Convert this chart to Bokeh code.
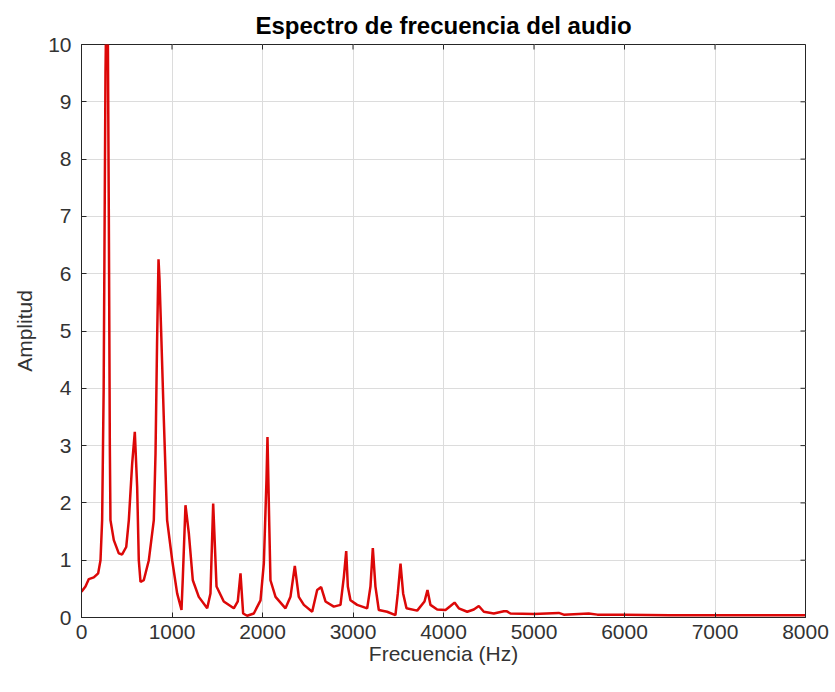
import math
from bokeh.plotting import figure
from bokeh.models import Range1d, FixedTicker
from bokeh.embed import file_html
from bokeh.resources import INLINE

# Data
freq_hz = [0, 44, 81, 136, 184, 210, 228, 245, 265, 285, 302, 313, 320, 357, 412, 449,
           494, 523, 560, 589, 615, 633, 652, 688, 744, 799, 818, 835, 851, 862, 880,
           910, 946, 1002, 1057, 1105, 1120, 1149, 1186, 1230, 1296, 1389, 1425, 1455,
           1492, 1572, 1683, 1727, 1757, 1786, 1830, 1904, 1978, 2015, 2044, 2055, 2075,
           2088, 2144, 2254, 2309, 2357, 2401, 2457, 2549, 2604, 2648, 2696, 2788, 2862,
           2899, 2925, 2943, 2972, 3046, 3157, 3193, 3219, 3248, 3285, 3377, 3469, 3495,
           3525, 3554, 3591, 3709, 3790, 3823, 3856, 3930, 4022, 4077, 4122, 4169, 4262,
           4335, 4390, 4446, 4556, 4667, 4696, 4740, 5000, 5274, 5329, 5605, 5700, 6000,
           6500, 7000, 7500, 8000]
amplitud = [0.45, 0.54, 0.67, 0.70, 0.77, 1.0, 1.7, 4.0, 9.5, 12.0, 7.0, 3.0, 1.7, 1.35, 1.12, 1.1,
            1.23, 1.7, 2.69, 3.24, 2.28, 1.0, 0.62, 0.65, 1.0, 1.7, 2.87, 4.8, 6.25, 5.9, 5.0,
            3.44, 1.7, 1.0, 0.42, 0.13, 0.71, 1.96, 1.47, 0.65, 0.36, 0.16, 0.42, 1.99,
            0.54, 0.28, 0.16, 0.28, 0.77, 0.07, 0.03, 0.07, 0.3, 0.95, 2.4, 3.15, 1.6,
            0.65, 0.36, 0.16, 0.36, 0.9, 0.36, 0.22, 0.1, 0.48, 0.53, 0.28, 0.19, 0.22,
            0.71, 1.16, 0.54, 0.3, 0.22, 0.16, 0.54, 1.21, 0.54, 0.13, 0.1, 0.04, 0.42,
            0.94, 0.42, 0.16, 0.12, 0.28, 0.48, 0.22, 0.14, 0.13, 0.2, 0.26, 0.16, 0.1,
            0.14, 0.2, 0.1, 0.07, 0.11, 0.11, 0.07, 0.06, 0.08, 0.05, 0.07, 0.05, 0.05,
            0.04, 0.04, 0.04, 0.04]
x_ticks = [0, 1000, 2000, 3000, 4000, 5000, 6000, 7000, 8000]
y_ticks = [0, 1, 2, 3, 4, 5, 6, 7, 8, 9, 10]
x_max = 8000
y_max = 10

FONT = "Liberation Sans"
AX = "#262626"

p = figure(width=835, height=692, output_backend="svg", toolbar_location=None,
           x_range=Range1d(0, x_max), y_range=Range1d(0, y_max),
           title="Espectro de frecuencia del audio",
           min_border_left=81, min_border_right=30, min_border_top=44, min_border_bottom=75)
p.title.align = "center"
p.title.text_font = FONT
p.title.text_font_size = "24px"
p.title.text_font_style = "bold"
p.title.text_color = "#000000"
p.title.standoff = 11

p.line(freq_hz, amplitud, line_color="#dc0808", line_width=2.5)

for ax, ticks in ((p.xaxis[0], x_ticks), (p.yaxis[0], y_ticks)):
    ax.ticker = FixedTicker(ticks=ticks)
    ax.major_tick_in = 5
    ax.major_tick_out = 0
    ax.minor_tick_line_color = None
    ax.axis_line_color = AX
    ax.major_tick_line_color = AX
    ax.major_label_text_font = FONT
    ax.major_label_text_font_size = "21px"
    ax.major_label_text_color = "#333333"
    ax.axis_label_text_font = FONT
    ax.axis_label_text_font_size = "21px"
    ax.axis_label_text_font_style = "normal"
    ax.axis_label_text_color = "#333333"

p.xaxis.axis_label = "Frecuencia (Hz)"
p.yaxis.axis_label = "Amplitud"
p.xaxis.major_label_standoff = 7
p.xaxis.axis_label_standoff = 0
p.yaxis.major_label_standoff = 10
p.yaxis.axis_label_standoff = 9

# box ticks on the top and right edges (inward), drawn as short screen-length rays
p.ray(x=x_ticks, y=[y_max] * len(x_ticks), length=5, length_units="screen",
      angle=-math.pi / 2, line_color=AX, line_width=1)
p.ray(x=[x_max] * len(y_ticks), y=y_ticks, length=5, length_units="screen",
      angle=math.pi, line_color=AX, line_width=1)

p.xgrid.ticker = FixedTicker(ticks=x_ticks)
p.ygrid.ticker = FixedTicker(ticks=y_ticks)
p.grid.grid_line_color = "#dcdcdc"
p.grid.grid_line_width = 1
p.outline_line_color = AX
p.outline_line_alpha = 1.0
p.background_fill_color = "white"
p.border_fill_color = "white"

open("out.html", "w").write(file_html(p, INLINE))
